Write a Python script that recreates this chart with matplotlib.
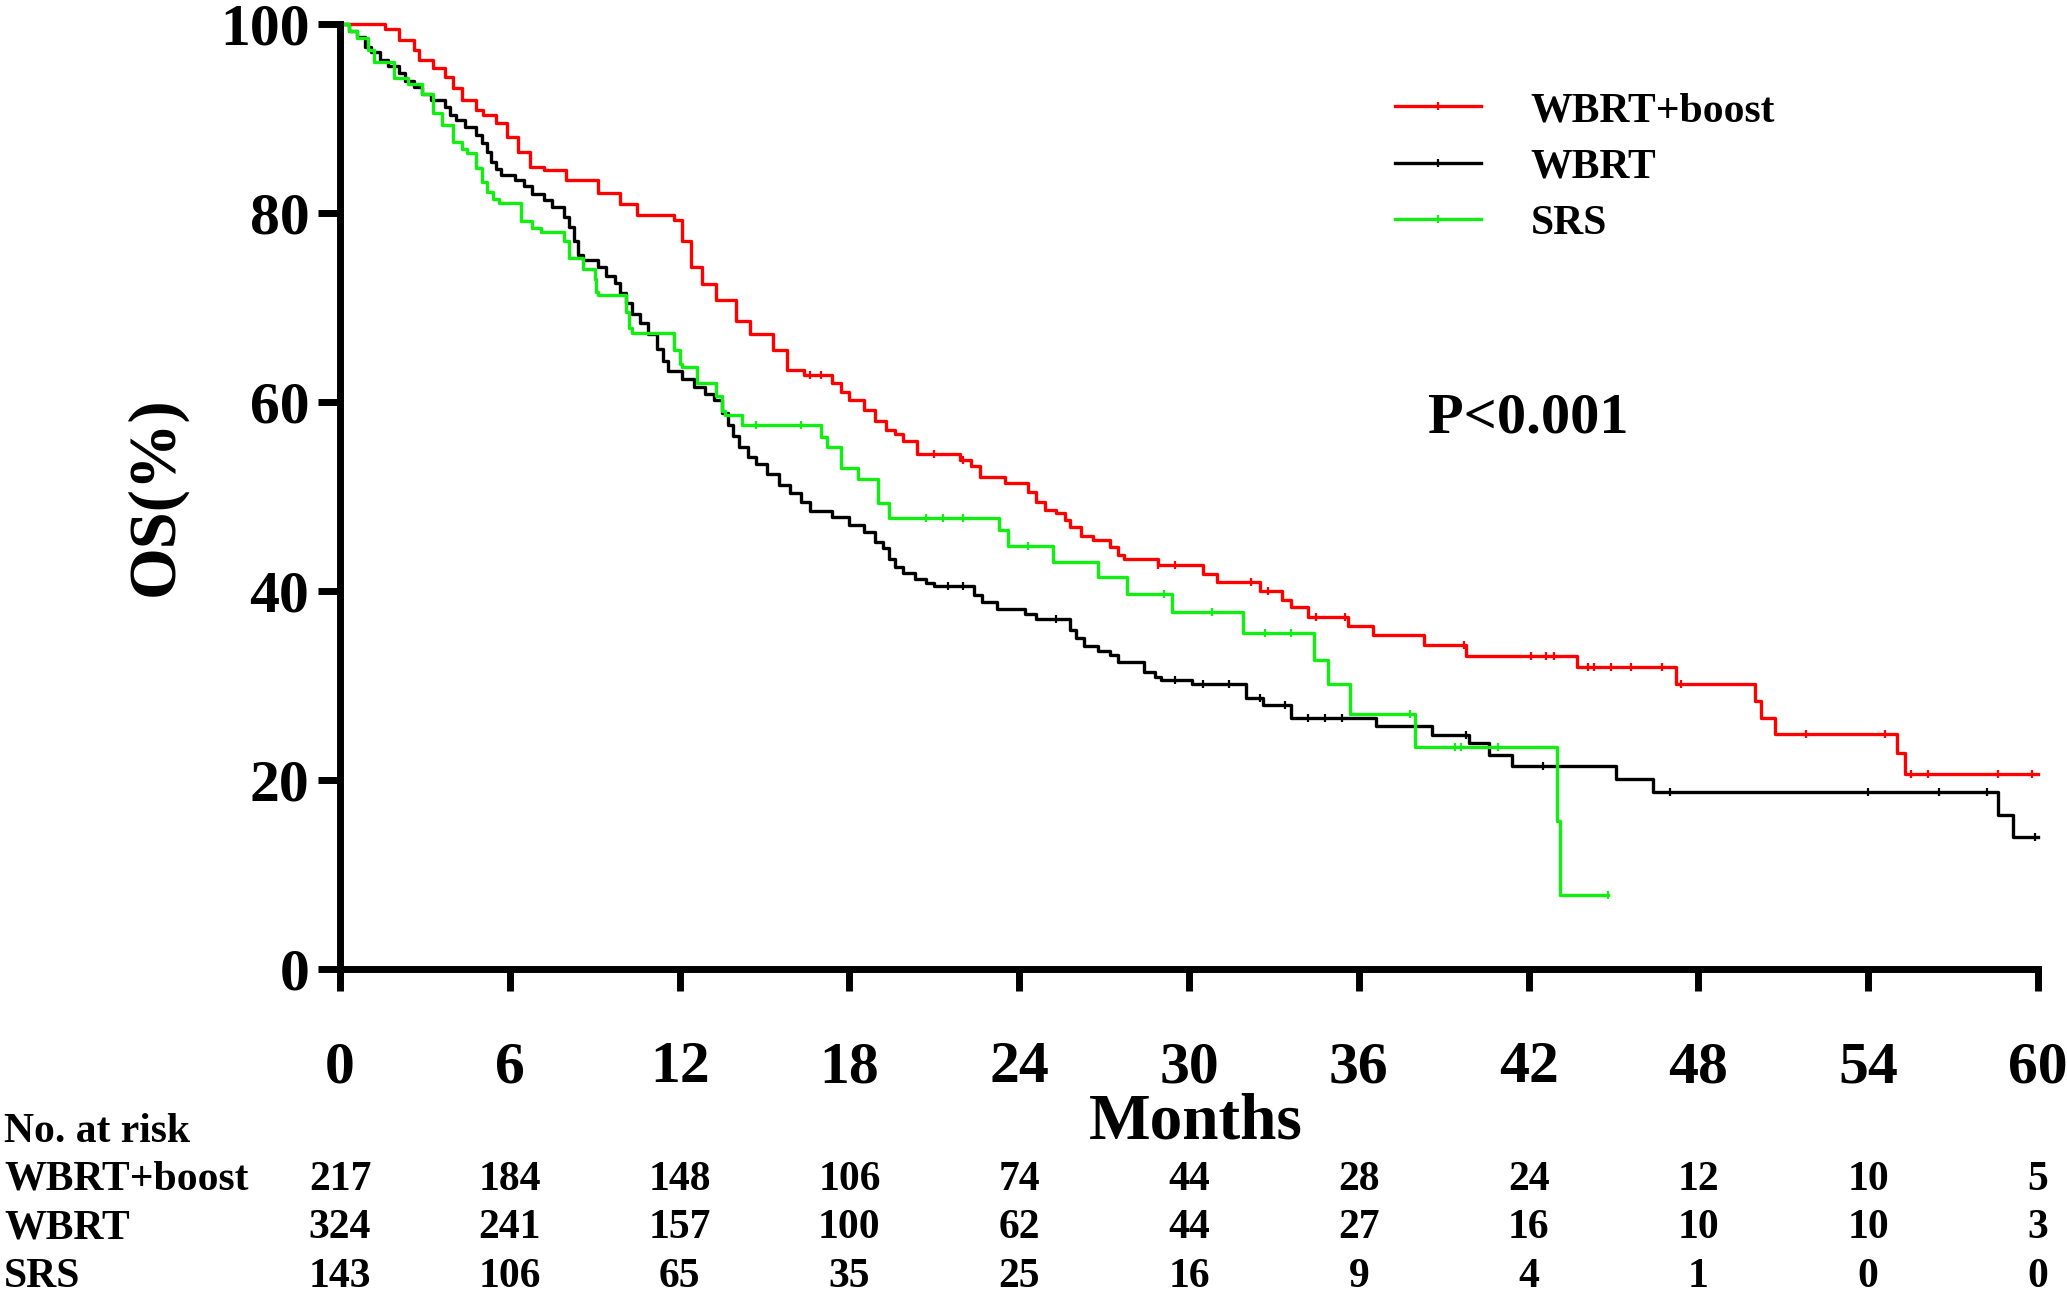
import numpy as np
import matplotlib
matplotlib.use("Agg")
import matplotlib.pyplot as plt
from matplotlib.transforms import blended_transform_factory

plt.rcParams['font.family'] = ['Liberation Serif', 'DejaVu Serif']
plt.rcParams['font.weight'] = 'bold'

# Kaplan-Meier steps (months, OS %)
boost_t = [0, 1.6, 2.1, 2.6, 2.8, 3.3, 3.7, 4.0, 4.3, 4.8, 5.05, 5.5, 5.9, 6.3, 6.7, 7.2, 8.0, 9.1,
           9.9, 10.5, 11.8, 12.1, 12.4, 12.8, 13.3, 14.0, 14.5, 15.3, 15.8, 16.4, 17.4, 17.7, 18.0,
           18.5, 18.9, 19.3, 19.6, 19.9, 20.4, 21.9, 22.3, 22.6, 23.5, 24.3, 24.6, 24.9, 25.3, 25.6,
           25.8, 26.2, 26.6, 27.2, 27.5, 27.7, 28.9, 30.5, 31.0, 32.5, 33.3, 33.6, 34.2, 35.6, 36.5,
           38.3, 39.8, 43.7, 47.2, 50.0, 50.2, 50.7, 55.0, 55.3, 60.0]
boost_s = [100, 99.5, 98.3, 97.2, 96.2, 95.3, 94.4, 93.2, 92.0, 90.9, 90.4, 89.5, 88.0, 86.5, 84.9,
           84.5, 83.5, 82.1, 80.9, 79.8, 79.3, 77.0, 74.3, 72.5, 70.8, 68.6, 67.2, 65.5, 63.4, 62.9,
           62.0, 61.0, 60.2, 59.1, 58.0, 57.0, 56.6, 55.9, 54.5, 53.9, 53.2, 52.1, 51.4, 50.5, 49.4,
           48.6, 48.2, 47.5, 46.8, 45.8, 45.4, 44.7, 43.8, 43.4, 42.7, 41.8, 40.9, 40.0, 39.0, 38.3,
           37.2, 36.3, 35.3, 34.3, 33.1, 31.9, 30.2, 28.4, 26.6, 24.9, 22.9, 20.6, 20.6]

wbrt_t = [0, 0.3, 0.6, 0.9, 1.1, 1.4, 1.7, 2.1, 2.3, 2.6, 2.9, 3.2, 3.7, 3.9, 4.1, 4.4, 4.8, 5.0,
          5.2, 5.35, 5.5, 5.7, 6.2, 6.5, 6.8, 7.2, 7.5, 7.9, 8.1, 8.25, 8.4, 8.6, 9.1, 9.4, 9.7, 9.9,
          10.1, 10.3, 10.6, 10.9, 11.2, 11.4, 11.6, 12.1, 12.5, 12.9, 13.2, 13.5, 13.7, 13.9, 14.1,
          14.4, 14.7, 15.1, 15.5, 15.9, 16.3, 16.6, 17.4, 18.0, 18.5, 18.9, 19.2, 19.4, 19.6, 19.9,
          20.3, 20.7, 21.0, 22.4, 22.7, 23.2, 24.2, 24.6, 25.8, 26.0, 26.3, 26.8, 27.2, 27.5, 28.4,
          28.8, 29.0, 30.1, 32.0, 32.6, 33.6, 36.6, 38.6, 39.9, 40.6, 41.4, 45.1, 46.4, 58.6, 59.1, 60.0]
wbrt_s = [100, 99.2, 98.6, 97.6, 97.0, 96.2, 95.6, 94.8, 94.0, 93.3, 92.6, 92.0, 91.2, 90.4, 89.8,
          89.1, 88.3, 87.4, 86.4, 85.4, 84.6, 84.0, 83.5, 82.9, 82.0, 81.4, 80.6, 79.6, 78.5, 77.0,
          75.6, 75.0, 74.3, 73.3, 72.6, 71.5, 70.5, 69.3, 68.4, 67.2, 65.6, 64.3, 63.3, 62.4, 61.6,
          60.8, 60.2, 58.8, 57.6, 56.4, 55.2, 54.2, 53.4, 52.4, 51.2, 50.4, 49.4, 48.5, 47.8, 47.0,
          46.2, 45.2, 44.5, 43.4, 42.5, 41.9, 41.3, 40.8, 40.5, 39.6, 38.8, 38.1, 37.6, 37.0, 35.9,
          35.0, 34.2, 33.6, 33.2, 32.5, 31.4, 30.9, 30.6, 30.1, 28.7, 27.9, 26.6, 25.7, 24.8, 23.9,
          22.6, 21.5, 20.1, 18.7, 16.3, 14.0, 14.0]

srs_t = [0, 0.3, 0.6, 1.0, 1.2, 1.9, 2.4, 2.9, 3.3, 3.6, 4.0, 4.3, 4.5, 4.8, 5.0, 5.2, 5.4, 5.6,
         6.4, 6.8, 7.1, 7.9, 8.1, 8.6, 9.0, 9.05, 9.1, 10.1, 10.2, 10.3, 11.8, 12.0, 12.1, 12.6,
         13.3, 13.5, 13.6, 14.2, 17.0, 17.2, 17.7, 18.3, 19.0, 19.4, 23.3, 23.6, 25.2, 26.8, 27.8,
         29.4, 31.9, 34.4, 34.9, 35.7, 38.0, 43.0, 43.1, 44.8]
srs_s = [100, 99.3, 98.5, 97.2, 96.0, 94.3, 93.6, 92.6, 90.6, 89.3, 87.5, 86.8, 86.3, 84.8, 83.3,
         82.2, 81.5, 81.0, 79.1, 78.4, 78.0, 77.0, 75.2, 74.1, 73.0, 71.6, 71.3, 69.5, 67.8, 67.3,
         65.5, 64.0, 63.7, 62.0, 60.6, 59.0, 58.6, 57.6, 56.3, 55.2, 53.0, 51.8, 49.3, 47.7, 46.5,
         44.8, 43.1, 41.5, 39.7, 37.8, 35.5, 32.7, 30.1, 27.0, 23.5, 15.7, 7.8, 7.8]

# censored observations (months)
boost_cens = [16.6, 17.0, 21.0, 22.0, 28.9, 29.5, 32.2, 32.8, 34.5, 35.5, 39.7, 42.1, 42.6, 42.9,
              44.1, 44.3, 44.9, 45.6, 46.7, 47.4, 51.8, 54.6, 55.5, 56.1, 58.6, 59.8]
wbrt_cens = [21.5, 22.0, 25.3, 29.5, 30.5, 31.4, 32.5, 33.4, 34.2, 34.8, 35.4, 39.8, 42.5, 47.0,
             54.0, 56.5, 58.2, 59.9]
srs_cens = [14.7, 16.3, 20.7, 21.3, 22.0, 24.3, 29.1, 30.8, 32.7, 33.6, 37.8, 39.4, 39.6, 40.9, 44.8]

groups = ['WBRT+boost', 'WBRT', 'SRS']
colors = ['#ff0000', '#000000', '#11ee11']
x_ticks = [0, 6, 12, 18, 24, 30, 36, 42, 48, 54, 60]
at_risk = {
    'WBRT+boost': [217, 184, 148, 106, 74, 44, 28, 24, 12, 10, 5],
    'WBRT': [324, 241, 157, 100, 62, 44, 27, 16, 10, 10, 3],
    'SRS': [143, 106, 65, 35, 25, 16, 9, 4, 1, 0, 0],
}

fig = plt.figure(figsize=(20.67, 12.94), dpi=100)
ax = fig.add_axes([0.1645, 0.2512, 0.8215, 0.7303])

curves = [(boost_t, boost_s, boost_cens), (wbrt_t, wbrt_s, wbrt_cens), (srs_t, srs_s, srs_cens)]
for (t, s, cens), name, col in zip(curves, groups, colors):
    t = np.array(t)
    s = np.array(s)
    ax.step(t, s, where='post', color=col, lw=2.4, clip_on=False, label=name)
    idx = np.searchsorted(t, cens, side='right') - 1
    ax.plot(cens, s[idx], linestyle='none', marker='|', color=col, markersize=6,
            markeredgewidth=1.6, clip_on=False)

ax.set_xlim(0, 60)
ax.set_ylim(0, 100)
ax.set_xticks(x_ticks)
ax.set_yticks([0, 20, 40, 60, 80, 100])
for side in ['top', 'right']:
    ax.spines[side].set_visible(False)
for side in ['left', 'bottom']:
    ax.spines[side].set_linewidth(5)
ax.tick_params(axis='both', length=16, width=5, labelsize=43)
ax.tick_params(axis='x', pad=36)
ax.tick_params(axis='y', pad=6)

ax.set_ylabel('OS(%)', fontsize=48, fontweight='bold')
ax.yaxis.set_label_coords(-0.09, 0.5)
ax.set_xlabel('Months', fontsize=47, fontweight='bold')
ax.xaxis.set_label_coords(0.504, -0.162)
ax.xaxis.label.set_va('center')

ax.text(0.700, 0.582, 'P<0.001', transform=ax.transAxes, ha='center', va='center',
        fontsize=42, fontweight='bold')

handles = [plt.Line2D([], [], color=c, lw=2.4, marker='|', markersize=6, markeredgewidth=1.6)
           for c in colors]
ax.legend(handles, groups, loc='upper left', bbox_to_anchor=(0.675, 0.929),
          bbox_transform=fig.transFigure, frameon=False, fontsize=30, numpoints=1,
          handlelength=2.05, handletextpad=1.2, labelspacing=0.44, borderpad=0,
          borderaxespad=0)

# number at risk table
fig.text(0.002, 0.1252, 'No. at risk', fontsize=30, ha='left', va='center')
row_y = [0.0881, 0.0510, 0.0131]
tr = blended_transform_factory(ax.transData, fig.transFigure)
for name, y in zip(groups, row_y):
    fig.text(0.002, y, name, fontsize=30, ha='left', va='center')
    for xv, n in zip(x_ticks, at_risk[name]):
        ax.text(xv, y, str(n), transform=tr, fontsize=30, ha='center', va='center', clip_on=False)

fig.savefig('out.png', dpi=100)
